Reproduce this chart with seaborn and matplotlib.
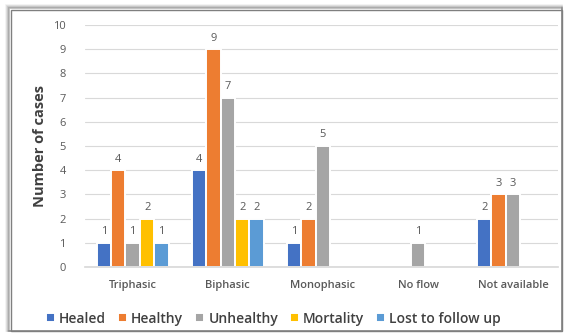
import matplotlib
matplotlib.use("Agg")
import matplotlib.pyplot as plt
from matplotlib.patches import Rectangle
import seaborn as sns
import pandas as pd

categories = ["Triphasic", "Biphasic", "Monophasic", "No flow", "Not available"]
series = ["Healed", "Healthy", "Unhealthy", "Mortality", "Lost to follow up"]
healed = [1, 4, 1, 0, 2]
healthy = [4, 9, 2, 0, 3]
unhealthy = [1, 7, 5, 1, 3]
mortality = [2, 2, 0, 0, 0]
lost = [1, 2, 0, 0, 0]
colors = ["#4472C4", "#ED7D31", "#A5A5A5", "#FFC000", "#5B9BD5"]

values = [healed, healthy, unhealthy, mortality, lost]
rows = []
for s, vals in zip(series, values):
    for c, v in zip(categories, vals):
        rows.append({"category": c, "series": s, "value": v})
df = pd.DataFrame(rows)

sns.set_theme(style="white")
plt.rcParams["font.family"] = ["Open Sans", "DejaVu Sans"]

fig = plt.figure(figsize=(5.64, 3.36), dpi=100)
ax = fig.add_axes([0.151, 0.205, 0.838, 0.721])

sns.barplot(data=df, x="category", y="value", hue="series", order=categories,
            hue_order=series, palette=colors, saturation=1, width=0.76, ax=ax,
            edgecolor="white", linewidth=1.4, legend=True, errorbar=None)

ax.set_ylim(0, 10)
ax.set_xlim(-0.5, 4.47)
ax.set_yticks(range(0, 11))
ax.yaxis.grid(True, color="#D9D9D9", linewidth=0.8)
ax.set_axisbelow(True)
for sp in ["top", "right", "left"]:
    ax.spines[sp].set_visible(False)
ax.spines["bottom"].set_color("#D9D9D9")
ax.tick_params(axis="both", length=0, colors="#595959", labelsize=8)
ax.tick_params(axis="x", pad=9, labelsize=8)
ax.tick_params(axis="y", pad=14)
for lbl in ax.get_xticklabels():
    lbl.set_fontweight("semibold")
ax.set_xlabel("")
ax.set_ylabel("Number of cases", fontsize=10.5, fontweight="bold", color="#404040", labelpad=4)

for cont in ax.containers:
    labels = [f"{int(b.get_height())}" if b.get_height() > 0 else "" for b in cont]
    ax.bar_label(cont, labels=labels, padding=4, fontsize=8, color="#595959")

handles, labs = ax.get_legend_handles_labels()
ax.legend_.remove()
fig.legend(handles, labs, loc="center", bbox_to_anchor=(0.485, 0.052), ncol=5,
           frameon=False, handlelength=0.65, handleheight=0.65,
           handletextpad=0.3, columnspacing=0.85, labelcolor="#404040",
           prop={"family": "Open Sans", "weight": "semibold", "size": 10})

# frame with shadow
for i, a in enumerate([0.08, 0.15, 0.25, 0.4]):
    off = (4 - i)
    fig.patches.append(Rectangle(((10 - off) / 564, 5 / 336),
                                 (552 + off) / 564, (322 + off) / 336,
                                 transform=fig.transFigure, fill=False,
                                 edgecolor=(0.3, 0.3, 0.3, a), linewidth=1.2))
fig.patches.append(Rectangle((11 / 564, 5 / 336), 551 / 564, 321 / 336,
                             transform=fig.transFigure, fill=False,
                             edgecolor="#7F7F7F", linewidth=1))

fig.savefig("out.png", dpi=100)
